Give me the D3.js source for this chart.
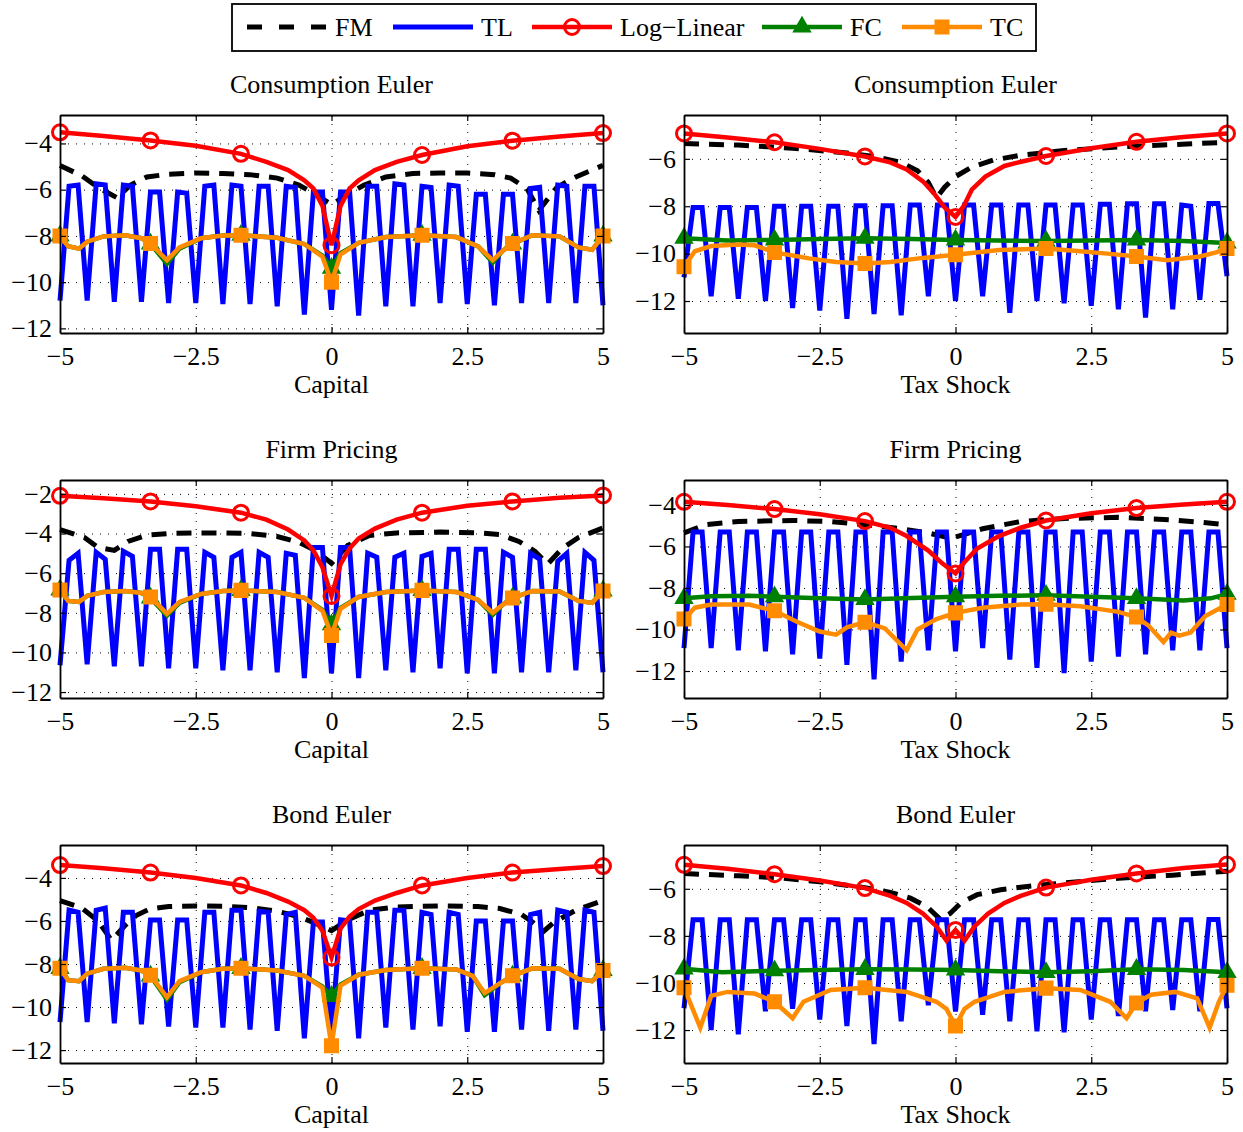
<!DOCTYPE html>
<html>
<head>
<meta charset="utf-8">
<script src="https://cdn.jsdelivr.net/npm/d3@7"></script>
<style>
  body { margin: 0; background: #fff; }
  svg text { font-family: "Liberation Serif", "Times New Roman", serif; }
</style>
</head>
<body>
<svg id="chart" width="1243" height="1132"></svg>
<script>
// x positions shared by every panel
const xTicks = [-5, -2.5, 0, 2.5, 5];
const markerX = [-5, -3.333, -1.667, 0, 1.667, 3.333, 5];
// TL is evaluated on a 61 point grid
const tlX = d3.range(61).map(i => -5 + i / 6);

/** CONSUMPTION EULER - CAPITAL */
const fmConsCap = [[-5,-4.95],[-4.6,-5.4],[-4.3,-5.9],[-3.95,-6.35],[-3.7,-5.8],[-3.4,-5.45],[-3,-5.33],[-2.5,-5.28],[-2,-5.3],[-1.5,-5.35],[-1,-5.5],[-0.6,-5.8],[-0.3,-6.2],[0,-6.65],[0.3,-6.2],[0.6,-5.8],[1,-5.45],[1.5,-5.3],[2,-5.28],[2.5,-5.28],[3,-5.35],[3.3,-5.5],[3.6,-5.95],[3.82,-6.9],[3.95,-6.5],[4.15,-5.9],[4.5,-5.45],[5,-4.95]];
const tlConsCap = [
  -10.8,-5.85,-5.8, -10.8,-5.75,-5.8, -10.85,-5.8,-5.85, -10.85,-6.1,-6.1,
  -10.9,-6.1,-6.15, -10.9,-5.85,-5.8, -10.95,-5.8,-5.85, -10.95,-5.85,-5.85,
  -11.05,-5.85,-5.9, -11.4,-6.1,-6.1, -11.2,-6.1,-6.1, -11.45,-5.85,-5.85,
  -11.05,-5.75,-5.8, -11.05,-5.85,-5.9, -10.9,-5.8,-5.85, -10.95,-6.2,-6.2,
  -11.0,-6.2,-6.2, -10.9,-5.95,-5.9, -10.9,-5.8,-5.85, -10.9,-5.85,-5.85, -11.0];
const llConsCap = [[-5,-3.52],[-4.2,-3.68],[-3.333,-3.87],[-2.5,-4.1],[-1.667,-4.45],[-1.2,-4.8],[-0.8,-5.15],[-0.5,-5.6],[-0.333,-5.95],[-0.167,-6.7],[0,-8.4],[0.167,-6.7],[0.333,-5.95],[0.5,-5.6],[0.8,-5.15],[1.2,-4.8],[1.667,-4.5],[2.5,-4.12],[3.333,-3.88],[4.2,-3.7],[5,-3.55]];
const fcConsCap = [[-5,-8.0],[-4.85,-8.45],[-4.65,-8.55],[-4.5,-8.25],[-4.2,-8.02],[-3.8,-7.97],[-3.5,-8.1],[-3.333,-8.35],[-3.03,-9.2],[-2.8,-8.55],[-2.4,-8.1],[-2,-7.98],[-1.667,-7.97],[-1,-8.08],[-0.5,-8.35],[-0.167,-8.85],[0,-9.4],[0.167,-8.75],[0.5,-8.3],[1,-8.05],[1.667,-7.97],[2.3,-8.05],[2.7,-8.45],[2.97,-9.15],[3.15,-8.65],[3.333,-8.35],[3.7,-7.97],[4.2,-8.02],[4.55,-8.5],[4.8,-8.6],[5,-8.0]];
const tcConsCap = [[-5,-8.0],[-4.85,-8.45],[-4.65,-8.55],[-4.5,-8.25],[-4.2,-8.02],[-3.8,-7.97],[-3.5,-8.1],[-3.333,-8.33],[-3.03,-9.05],[-2.8,-8.5],[-2.4,-8.1],[-2,-7.98],[-1.667,-7.97],[-1,-8.08],[-0.5,-8.35],[-0.167,-8.9],[0,-10.0],[0.167,-8.8],[0.5,-8.3],[1,-8.05],[1.667,-7.97],[2.3,-8.05],[2.7,-8.45],[2.97,-9.05],[3.15,-8.65],[3.333,-8.33],[3.7,-7.97],[4.2,-8.02],[4.55,-8.5],[4.8,-8.6],[5,-8.0]];

/** CONSUMPTION EULER - TAX SHOCK */
const fmConsTax = [[-5,-5.35],[-4,-5.42],[-3,-5.55],[-2,-5.75],[-1.5,-5.9],[-1,-6.15],[-0.7,-6.5],[-0.5,-7.0],[-0.35,-7.65],[-0.2,-7.2],[0,-6.75],[0.3,-6.35],[0.7,-6.05],[1.2,-5.85],[2,-5.65],[3,-5.5],[4,-5.4],[5,-5.3]];
const tlConsTax = [
  -11.0,-8.05,-8.05, -11.8,-8.05,-8.05, -11.9,-8.05,-8.05, -12.0,-8.0,-8.0,
  -12.3,-8.0,-8.0, -12.4,-8.0,-8.0, -12.75,-7.98,-7.98, -12.55,-7.98,-7.98,
  -12.6,-7.95,-7.95, -11.8,-7.95,-7.95, -12.0,-7.95,-7.95, -11.8,-7.95,-7.95,
  -12.5,-7.95,-7.95, -12.0,-7.95,-7.95, -12.1,-7.95,-7.95, -12.2,-7.92,-7.92,
  -12.35,-7.9,-7.9, -12.7,-7.9,-7.9, -12.35,-7.95,-8.0, -11.95,-7.88,-7.88, -10.95];
const llConsTax = [[-5,-4.93],[-4.2,-5.1],[-3.333,-5.3],[-2.5,-5.58],[-1.667,-5.9],[-1.2,-6.15],[-0.9,-6.45],[-0.6,-6.95],[-0.4,-7.45],[-0.2,-8.05],[0,-8.45],[0.15,-8.0],[0.3,-7.3],[0.55,-6.75],[0.9,-6.3],[1.25,-6.1],[1.667,-5.88],[2.5,-5.55],[3.333,-5.28],[4.2,-5.08],[5,-4.93]];
const fcConsTax = [[-5,-9.35],[-4.2,-9.45],[-3.333,-9.42],[-2.5,-9.38],[-1.667,-9.35],[-0.8,-9.38],[0,-9.42],[0.8,-9.45],[1.667,-9.47],[2.5,-9.45],[3.333,-9.42],[4.2,-9.47],[5,-9.55]];
const tcConsTax = [[-5,-10.55],[-4.8,-9.9],[-4.5,-9.68],[-4,-9.62],[-3.7,-9.65],[-3.333,-9.95],[-2.7,-10.2],[-2.2,-10.35],[-1.667,-10.42],[-1.2,-10.35],[-0.6,-10.18],[0,-10.05],[0.8,-9.85],[1.667,-9.78],[2.3,-9.9],[2.8,-10.0],[3.333,-10.12],[3.9,-10.28],[4.5,-10.12],[4.8,-9.95],[5,-9.78]];

/** FIRM PRICING - CAPITAL */
const fmFirmCap = [[-5,-3.8],[-4.55,-4.2],[-4.3,-4.7],[-4.0,-4.85],[-3.75,-4.4],[-3.4,-4.08],[-3,-4.0],[-2.5,-3.97],[-2,-3.97],[-1.5,-4.0],[-1,-4.15],[-0.6,-4.45],[-0.3,-4.85],[0,-5.5],[0.3,-4.6],[0.7,-4.1],[1.2,-3.97],[2,-3.93],[2.7,-3.97],[3.1,-4.05],[3.45,-4.4],[3.75,-4.9],[3.98,-5.55],[4.25,-4.75],[4.55,-4.2],[5,-3.72]];
const tlFirmCap = [
  -10.65,-5.35,-5.0, -10.6,-4.95,-5.3, -10.7,-4.9,-5.15, -10.7,-4.8,-4.8,
  -10.8,-4.8,-4.8, -10.8,-4.95,-5.2, -10.9,-5.2,-4.95, -10.9,-4.95,-5.2,
  -11.0,-5.0,-5.1, -11.3,-4.7,-4.7, -11.05,-4.7,-4.7, -11.3,-5.0,-5.2,
  -10.9,-5.2,-5.0, -11.0,-5.15,-5.0, -10.8,-4.8,-4.8, -11.05,-4.8,-4.8,
  -11.05,-4.95,-5.2, -11.0,-5.0,-5.3, -11.0,-5.4,-5.0, -10.9,-4.95,-5.35, -11.0];
const llFirmCap = [[-5,-2.1],[-4.2,-2.22],[-3.333,-2.38],[-2.5,-2.62],[-1.667,-2.95],[-1.2,-3.3],[-0.8,-3.8],[-0.5,-4.35],[-0.333,-4.85],[-0.167,-5.7],[0,-7.15],[0.167,-5.55],[0.333,-4.75],[0.5,-4.25],[0.8,-3.75],[1.2,-3.3],[1.667,-2.95],[2.5,-2.6],[3.333,-2.38],[4.2,-2.2],[5,-2.08]];
const fcFirmCap = [[-5,-6.85],[-4.85,-7.4],[-4.65,-7.45],[-4.5,-7.15],[-4.2,-6.95],[-3.8,-6.9],[-3.5,-7.0],[-3.333,-7.25],[-3.03,-8.15],[-2.8,-7.5],[-2.4,-7.05],[-2,-6.9],[-1.667,-6.87],[-1,-6.95],[-0.5,-7.25],[-0.167,-7.85],[0,-8.6],[0.167,-7.75],[0.5,-7.2],[1,-6.95],[1.667,-6.87],[2.3,-6.95],[2.7,-7.35],[2.97,-8.1],[3.15,-7.6],[3.333,-7.25],[3.7,-6.9],[4.2,-6.92],[4.55,-7.4],[4.8,-7.5],[5,-6.9]];
const tcFirmCap = [[-5,-6.85],[-4.85,-7.4],[-4.65,-7.45],[-4.5,-7.15],[-4.2,-6.95],[-3.8,-6.9],[-3.5,-7.0],[-3.333,-7.2],[-3.03,-8.05],[-2.8,-7.45],[-2.4,-7.05],[-2,-6.9],[-1.667,-6.87],[-1,-6.95],[-0.5,-7.25],[-0.167,-7.9],[0,-9.15],[0.167,-7.8],[0.5,-7.2],[1,-6.95],[1.667,-6.87],[2.3,-6.95],[2.7,-7.35],[2.97,-8.0],[3.15,-7.6],[3.333,-7.25],[3.7,-6.9],[4.2,-6.92],[4.55,-7.4],[4.8,-7.5],[5,-6.9]];

/** FIRM PRICING - TAX SHOCK */
const fmFirmTax = [[-5,-5.35],[-4.6,-4.95],[-4,-4.8],[-3,-4.75],[-2.3,-4.8],[-1.667,-4.95],[-1,-5.15],[-0.5,-5.35],[-0.1,-5.6],[0,-5.55],[0.5,-5.15],[1.2,-4.8],[2,-4.65],[3,-4.6],[4,-4.72],[5,-4.95]];
const tlFirmTax = [
  -10.9,-5.3,-5.3, -10.9,-5.3,-5.3, -11.0,-5.3,-5.3, -11.05,-5.3,-5.3,
  -11.2,-5.3,-5.3, -11.4,-5.3,-5.3, -11.7,-5.3,-5.3, -12.4,-5.3,-5.3,
  -11.55,-5.3,-5.3, -11.0,-5.3,-5.3, -11.05,-5.3,-5.3, -10.9,-5.3,-5.3,
  -11.45,-5.3,-5.3, -11.85,-5.3,-5.3, -12.1,-5.3,-5.3, -11.55,-5.3,-5.3,
  -11.3,-5.3,-5.3, -11.2,-5.3,-5.3, -11.0,-5.3,-5.3, -11.0,-5.3,-5.3, -10.9];
const llFirmTax = [[-5,-3.85],[-4.2,-4.0],[-3.333,-4.2],[-2.5,-4.45],[-1.667,-4.78],[-1.2,-5.1],[-0.9,-5.5],[-0.5,-6.2],[-0.25,-6.8],[0,-7.3],[0.167,-6.75],[0.4,-6.1],[0.8,-5.5],[1.2,-5.1],[1.667,-4.75],[2.5,-4.4],[3.333,-4.15],[4.2,-3.98],[5,-3.85]];
const fcFirmTax = [[-5,-8.5],[-4.5,-8.4],[-3.8,-8.38],[-3.333,-8.42],[-2.5,-8.5],[-1.667,-8.55],[-0.8,-8.48],[0,-8.42],[0.8,-8.38],[1.667,-8.35],[2.5,-8.42],[3.333,-8.5],[4.2,-8.6],[4.7,-8.5],[5,-8.3]];
const tcFirmTax = [[-5,-9.5],[-4.8,-8.95],[-4.5,-8.8],[-3.8,-8.8],[-3.333,-9.1],[-2.9,-9.65],[-2.5,-10.1],[-2.2,-10.25],[-2.0,-9.9],[-1.667,-9.65],[-1.3,-9.95],[-0.9,-11.0],[-0.7,-10.0],[-0.35,-9.5],[0,-9.2],[0.5,-8.95],[1.2,-8.8],[1.667,-8.78],[2.3,-8.88],[3,-9.15],[3.333,-9.4],[3.55,-9.8],[3.83,-10.6],[3.97,-10.15],[4.12,-10.3],[4.33,-10.15],[4.6,-9.35],[5,-8.8]];

/** BOND EULER - CAPITAL */
const fmBondCap = [[-5,-5.05],[-4.6,-5.4],[-4.3,-6.0],[-4.05,-6.9],[-3.8,-6.2],[-3.6,-5.75],[-3.35,-5.45],[-3,-5.33],[-2.5,-5.3],[-2,-5.32],[-1.5,-5.38],[-1,-5.55],[-0.6,-5.8],[-0.3,-6.1],[0,-6.45],[0.3,-5.95],[0.7,-5.5],[1.2,-5.35],[2,-5.3],[2.7,-5.33],[3.1,-5.42],[3.5,-5.7],[3.7,-6.05],[3.9,-6.5],[4.1,-6.05],[4.5,-5.5],[5,-5.05]];
const tlBondCap = [
  -10.7,-5.5,-5.6, -10.7,-5.5,-5.4, -10.75,-5.6,-5.6, -10.8,-5.95,-5.95,
  -10.9,-5.95,-5.95, -10.95,-5.6,-5.6, -10.95,-5.5,-5.5, -11.05,-5.55,-5.6,
  -11.1,-5.7,-5.6, -11.45,-6.05,-6.05, -11.2,-5.95,-6.0, -11.45,-5.6,-5.6,
  -10.95,-5.5,-5.5, -11.05,-5.6,-5.7, -10.9,-5.6,-5.7, -11.15,-6.0,-6.0,
  -11.15,-6.0,-6.0, -11.05,-5.7,-5.6, -11.1,-5.5,-5.6, -11.05,-5.5,-5.6, -11.1];
const llBondCap = [[-5,-3.4],[-4.2,-3.55],[-3.333,-3.75],[-2.5,-4.0],[-1.667,-4.35],[-1.2,-4.7],[-0.8,-5.1],[-0.5,-5.5],[-0.333,-5.85],[-0.167,-6.45],[0,-7.7],[0.167,-6.35],[0.333,-5.8],[0.5,-5.45],[0.8,-5.05],[1.2,-4.7],[1.667,-4.35],[2.5,-4.0],[3.333,-3.75],[4.2,-3.58],[5,-3.45]];
const fcBondCap = [[-5,-8.2],[-4.85,-8.75],[-4.65,-8.8],[-4.5,-8.45],[-4.2,-8.22],[-3.8,-8.17],[-3.5,-8.3],[-3.333,-8.55],[-3.03,-9.65],[-2.8,-8.85],[-2.4,-8.38],[-2,-8.22],[-1.667,-8.2],[-1,-8.3],[-0.5,-8.55],[-0.167,-9.05],[0,-9.5],[0.167,-8.95],[0.5,-8.5],[1,-8.28],[1.667,-8.2],[2.3,-8.25],[2.6,-8.55],[2.82,-9.45],[3.1,-8.9],[3.333,-8.55],[3.7,-8.2],[4.2,-8.22],[4.55,-8.7],[4.8,-8.8],[5,-8.3]];
const tcBondCap = [[-5,-8.2],[-4.85,-8.75],[-4.65,-8.8],[-4.5,-8.45],[-4.2,-8.22],[-3.8,-8.17],[-3.5,-8.3],[-3.333,-8.52],[-3.03,-9.55],[-2.8,-8.8],[-2.4,-8.38],[-2,-8.22],[-1.667,-8.2],[-1,-8.3],[-0.5,-8.55],[-0.167,-9.1],[0,-11.8],[0.167,-9.0],[0.5,-8.5],[1,-8.28],[1.667,-8.2],[2.3,-8.25],[2.6,-8.55],[2.82,-9.35],[3.1,-8.9],[3.333,-8.55],[3.7,-8.2],[4.2,-8.22],[4.55,-8.7],[4.8,-8.8],[5,-8.3]];

/** BOND EULER - TAX SHOCK */
const fmBondTax = [[-5,-5.35],[-4,-5.45],[-3.333,-5.52],[-2.5,-5.7],[-1.667,-5.95],[-1.2,-6.15],[-0.83,-6.4],[-0.53,-6.75],[-0.28,-7.3],[-0.1,-7.05],[0.1,-6.6],[0.4,-6.25],[0.83,-6.04],[1.32,-5.9],[2,-5.75],[3,-5.55],[4,-5.42],[5,-5.25]];
const tlBondTax = [
  -11.07,-7.32,-7.32, -12.0,-7.32,-7.32, -12.18,-7.32,-7.32, -11.2,-7.32,-7.32,
  -11.1,-7.32,-7.32, -11.55,-7.32,-7.32, -11.83,-7.32,-7.32, -12.6,-7.32,-7.32,
  -11.63,-7.32,-7.32, -10.95,-7.32,-7.32, -11.21,-7.32,-7.32, -11.35,-7.32,-7.32,
  -11.63,-7.32,-7.32, -12.05,-7.32,-7.32, -12.1,-7.32,-7.32, -11.55,-7.32,-7.32,
  -11.4,-7.32,-7.32, -11.2,-7.32,-7.32, -11.15,-7.32,-7.32, -11.2,-7.3,-7.3, -11.07];
const llBondTax = [[-5,-4.98],[-4.2,-5.15],[-3.333,-5.38],[-2.5,-5.65],[-1.667,-5.97],[-1.2,-6.3],[-0.9,-6.6],[-0.6,-7.05],[-0.35,-7.6],[-0.167,-8.2],[0,-7.75],[0.167,-8.2],[0.35,-7.6],[0.6,-7.05],[0.9,-6.6],[1.2,-6.3],[1.667,-5.95],[2.5,-5.62],[3.333,-5.35],[4.2,-5.12],[5,-4.97]];
const fcBondTax = [[-5,-9.4],[-4.3,-9.55],[-3.333,-9.48],[-2.5,-9.45],[-1.667,-9.42],[-0.8,-9.43],[0,-9.45],[0.8,-9.5],[1.667,-9.55],[2.5,-9.5],[3.333,-9.42],[4.2,-9.45],[5,-9.55]];
const tcBondTax = [[-5,-10.2],[-4.7,-11.9],[-4.5,-10.55],[-4.2,-10.38],[-3.7,-10.45],[-3.333,-10.8],[-3.0,-11.5],[-2.8,-10.8],[-2.3,-10.3],[-1.667,-10.2],[-0.9,-10.38],[-0.35,-10.8],[-0.167,-11.1],[0,-11.83],[0.167,-11.1],[0.35,-10.8],[0.9,-10.38],[1.667,-10.22],[2.3,-10.3],[2.85,-10.8],[3.15,-11.5],[3.333,-10.85],[3.6,-10.5],[4.05,-10.38],[4.45,-10.65],[4.68,-11.9],[4.85,-10.8],[5,-10.1]];

const panels = [
  {title: "Consumption Euler", xlabel: "Capital", col: 0, row: 0, yDomain: [-12.2, -2.77], yTicks: [-12, -10, -8, -6, -4],
   fm: fmConsCap, tl: tlConsCap, ll: llConsCap, fc: fcConsCap, tc: tcConsCap},
  {title: "Consumption Euler", xlabel: "Tax Shock", col: 1, row: 0, yDomain: [-13.35, -4.15], yTicks: [-12, -10, -8, -6],
   fm: fmConsTax, tl: tlConsTax, ll: llConsTax, fc: fcConsTax, tc: tcConsTax},
  {title: "Firm Pricing", xlabel: "Capital", col: 0, row: 1, yDomain: [-12.3, -1.3], yTicks: [-12, -10, -8, -6, -4, -2],
   fm: fmFirmCap, tl: tlFirmCap, ll: llFirmCap, fc: fcFirmCap, tc: tcFirmCap},
  {title: "Firm Pricing", xlabel: "Tax Shock", col: 1, row: 1, yDomain: [-13.3, -2.8], yTicks: [-12, -10, -8, -6, -4],
   fm: fmFirmTax, tl: tlFirmTax, ll: llFirmTax, fc: fcFirmTax, tc: tcFirmTax},
  {title: "Bond Euler", xlabel: "Capital", col: 0, row: 2, yDomain: [-12.6, -2.47], yTicks: [-12, -10, -8, -6, -4],
   fm: fmBondCap, tl: tlBondCap, ll: llBondCap, fc: fcBondCap, tc: tcBondCap},
  {title: "Bond Euler", xlabel: "Tax Shock", col: 1, row: 2, yDomain: [-13.4, -4.14], yTicks: [-12, -10, -8, -6],
   fm: fmBondTax, tl: tlBondTax, ll: llBondTax, fc: fcBondTax, tc: tcBondTax}
];

const series = [
  {key: "fm", name: "FM", color: "#000000", width: 5, dash: "15,10", marker: null},
  {key: "tl", name: "TL", color: "#0000ff", width: 5, dash: null, marker: null},
  {key: "ll", name: "Log\u2212Linear", color: "#ff0000", width: 4.5, dash: null, marker: "circle"},
  {key: "fc", name: "FC", color: "#008000", width: 4.5, dash: null, marker: "triangle"},
  {key: "tc", name: "TC", color: "#ff8c00", width: 4.5, dash: null, marker: "square"}
];

const svg = d3.select("#chart");
const font = "'Liberation Serif', 'Times New Roman', serif";

// frame of each panel
const colLeft = [60, 684];
const rowTop = [115, 480, 845];
const plotW = 543, plotH = 218;

function drawMarker(sel, type, color) {
  if (type === "circle") {
    sel.append("circle").attr("r", 7.5)
      .attr("fill", "none").attr("stroke", color).attr("stroke-width", 3);
  } else if (type === "triangle") {
    sel.append("path").attr("d", d3.symbol().type(d3.symbolTriangle).size(110)())
      .attr("fill", color).attr("stroke", color).attr("stroke-width", 2);
  } else if (type === "square") {
    sel.append("path").attr("d", d3.symbol().type(d3.symbolSquare).size(170)())
      .attr("fill", color).attr("stroke", color).attr("stroke-width", 2);
  }
}

function drawPanel(p) {
  const left = colLeft[p.col], top = rowTop[p.row];
  const x = d3.scaleLinear().domain([-5, 5]).range([left, left + plotW]);
  const y = d3.scaleLinear().domain(p.yDomain).range([top + plotH, top]);
  const g = svg.append("g");

  // dotted grid
  g.append("g")
    .attr("transform", `translate(0, ${top + plotH})`)
    .call(d3.axisBottom(x).tickValues(xTicks).tickSize(-plotH).tickFormat(""))
    .call(a => a.select(".domain").remove())
    .call(a => a.selectAll("line").attr("stroke-dasharray", "1,7").attr("stroke-width", 1));
  g.append("g")
    .attr("transform", `translate(${left}, 0)`)
    .call(d3.axisLeft(y).tickValues(p.yTicks).tickSize(-plotW).tickFormat(""))
    .call(a => a.select(".domain").remove())
    .call(a => a.selectAll("line").attr("stroke-dasharray", "1,7").attr("stroke-width", 1));

  // lines
  const line = d3.line().x(d => x(d[0])).y(d => y(d[1]));
  series.forEach(s => {
    const data = s.key === "tl" ? p.tl.map((v, i) => [tlX[i], v]) : p[s.key];
    g.append("path")
      .datum(data)
      .attr("d", line)
      .attr("fill", "none")
      .attr("stroke", s.color)
      .attr("stroke-width", s.width)
      .attr("stroke-linejoin", "miter")
      .attr("stroke-dasharray", s.dash);
    if (s.marker) {
      const pts = data.filter(d => markerX.some(m => Math.abs(m - d[0]) < 0.01));
      g.append("g").selectAll("g")
        .data(pts)
        .join("g")
        .attr("transform", d => `translate(${x(d[0])}, ${y(d[1])})`)
        .each(function() { drawMarker(d3.select(this), s.marker, s.color); });
    }
  });

  // box with inward ticks
  const axes = [
    {ax: d3.axisBottom(x).tickValues(xTicks).tickFormat(d3.format("")).tickPadding(14), t: `translate(0, ${top + plotH})`},
    {ax: d3.axisTop(x).tickValues(xTicks).tickFormat(""), t: `translate(0, ${top})`},
    {ax: d3.axisLeft(y).tickValues(p.yTicks).tickFormat(d3.format("d")).tickPadding(8), t: `translate(${left}, 0)`},
    {ax: d3.axisRight(y).tickValues(p.yTicks).tickFormat(""), t: `translate(${left + plotW}, 0)`}
  ];
  axes.forEach(a => {
    g.append("g")
      .attr("transform", a.t)
      .call(a.ax.tickSizeInner(-6).tickSizeOuter(0))
      .attr("font-size", 26)
      .attr("font-family", font)
      .call(s => s.select(".domain").attr("stroke-width", 1.8))
      .call(s => s.selectAll(".tick line").attr("stroke-width", 1.2))
      .call(s => s.selectAll("text").attr("fill", "#000"));
  });

  g.append("text")
    .attr("x", left + plotW / 2).attr("y", top - 22)
    .attr("text-anchor", "middle").attr("font-size", 26)
    .text(p.title);
  g.append("text")
    .attr("x", left + plotW / 2).attr("y", top + plotH + 60)
    .attr("text-anchor", "middle").attr("font-size", 26)
    .text(p.xlabel);
}

panels.forEach(drawPanel);

// legend
const legend = svg.append("g");
legend.append("rect")
  .attr("x", 232).attr("y", 4).attr("width", 804).attr("height", 47)
  .attr("fill", "#fff").attr("stroke", "#000").attr("stroke-width", 1.8);
const legendX = [247, 393, 532, 762, 902];
series.forEach((s, i) => {
  const x0 = legendX[i], cy = 27;
  legend.append("line")
    .attr("x1", x0).attr("x2", x0 + 80).attr("y1", cy).attr("y2", cy)
    .attr("stroke", s.color).attr("stroke-width", s.width)
    .attr("stroke-dasharray", s.key === "fm" ? "15,17" : null);
  if (s.marker) {
    const m = legend.append("g").attr("transform", `translate(${x0 + 40}, ${cy})`);
    drawMarker(m, s.marker, s.color);
  }
  legend.append("text")
    .attr("x", x0 + 88).attr("y", cy + 9)
    .attr("font-size", 26)
    .text(s.name);
});
</script>
</body>
</html>
